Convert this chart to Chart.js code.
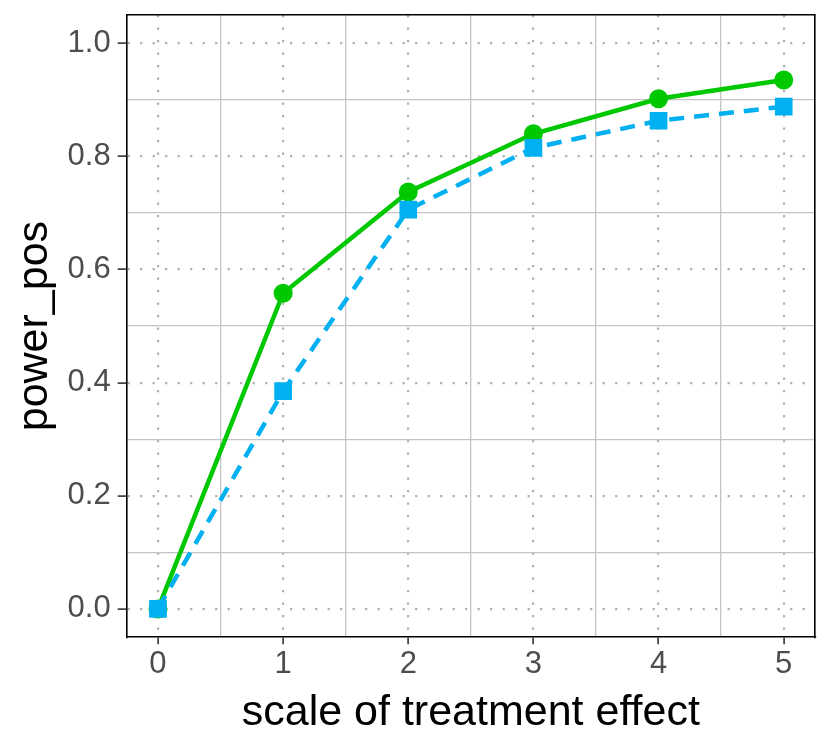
<!DOCTYPE html>
<html>
<head>
<meta charset="utf-8">
<script src="https://cdn.jsdelivr.net/npm/chart.js@4.4.0/dist/chart.umd.min.js"></script>
<style>
  html, body { margin: 0; padding: 0; background: #ffffff; }
  #wrap { width: 830px; height: 747px; }
</style>
</head>
<body>
<div id="wrap"><canvas id="c" width="830" height="747"></canvas></div>
<script>
// ---- data ----
const effectScale = [0, 1, 2, 3, 4, 5];
const powerGreen  = [0.000, 0.558, 0.737, 0.840, 0.902, 0.935];
const powerBlue   = [0.000, 0.385, 0.706, 0.815, 0.863, 0.888];
const xMajorTicks = [0, 1, 2, 3, 4, 5];
const xMinorTicks = [0.5, 1.5, 2.5, 3.5, 4.5];
const yMajorTicks = [0.0, 0.2, 0.4, 0.6, 0.8, 1.0];
const yMinorTicks = [0.1, 0.3, 0.5, 0.7, 0.9];
const xTitle = 'scale of treatment effect';
const yTitle = 'power_pos';

const GREEN = '#00c800';
const BLUE = '#00b0f0';

function pts(xs, ys) { return xs.map((x, i) => ({ x: x, y: ys[i] })); }

Chart.defaults.font.family = '"Liberation Sans", Arial, sans-serif';

const tickFont = { size: 31 };
const titleFont = { size: 43 };

new Chart(document.getElementById('c'), {
  type: 'line',
  data: {
    datasets: [
      { label: 'blue points', data: pts(effectScale, powerBlue), showLine: false,
        pointStyle: 'rect', pointRadius: 12.5, pointHoverRadius: 12.5,
        pointBackgroundColor: BLUE, pointBorderWidth: 0, borderColor: BLUE, backgroundColor: BLUE },
      { label: 'green points', data: pts(effectScale, powerGreen), showLine: false,
        pointStyle: 'circle', pointRadius: 9.5, pointHoverRadius: 9.5,
        pointBackgroundColor: GREEN, pointBorderWidth: 0, borderColor: GREEN, backgroundColor: GREEN },
      { label: 'blue line', data: pts(effectScale, powerBlue), borderColor: BLUE, borderWidth: 4.5,
        borderDash: [15, 10], pointRadius: 0, fill: false, tension: 0 },
      { label: 'green line', data: pts(effectScale, powerGreen), borderColor: GREEN, borderWidth: 4.5,
        pointRadius: 0, fill: false, tension: 0 }
    ]
  },
  options: {
    responsive: false,
    animation: false,
    devicePixelRatio: 1,
    layout: { padding: { left: 0, right: 15, top: 15, bottom: 8 } },
    plugins: { legend: { display: false }, tooltip: { enabled: false } },
    scales: {
      x: {
        type: 'linear', position: 'bottom', min: -0.25, max: 5.25,
        afterBuildTicks: s => { s.ticks = xMajorTicks.map(v => ({ value: v })); },
        afterFit: s => { s.paddingLeft = 0; s.paddingRight = 0; },
        ticks: { font: tickFont, color: '#4d4d4d', padding: 2, maxRotation: 0, autoSkip: false,
                 callback: v => String(v) },
        grid: { color: '#b0b0b0', lineWidth: 2.2, tickColor: '#333333', tickLength: 7, tickWidth: 1.6 },
        border: { display: true, color: '#000000', width: 1.6, dash: [2.2, 10.3] },
        title: { display: true, text: xTitle, font: titleFont, color: '#000000', padding: { top: 2, bottom: 0 } }
      },
      xMinor: {
        type: 'linear', position: 'top', min: -0.25, max: 5.25,
        afterBuildTicks: s => { s.ticks = xMinorTicks.map(v => ({ value: v })); },
        ticks: { display: false },
        grid: { color: '#c4c4c4', lineWidth: 1.3, drawTicks: false },
        border: { display: true, color: '#000000', width: 1.6 }
      },
      y: {
        type: 'linear', position: 'left', min: -0.05, max: 1.05,
        afterBuildTicks: s => { s.ticks = yMajorTicks.map(v => ({ value: v })); },
        afterFit: s => { s.paddingTop = 0; s.paddingBottom = 0; },
        ticks: { font: tickFont, color: '#4d4d4d', padding: 7, autoSkip: false,
                 callback: v => Number(v).toFixed(1) },
        grid: { color: '#b0b0b0', lineWidth: 2.2, tickColor: '#333333', tickLength: 9, tickWidth: 1.6 },
        border: { display: true, color: '#000000', width: 1.6, dash: [2.2, 10.3] },
        title: { display: true, text: yTitle, font: titleFont, color: '#000000', padding: { top: 9, bottom: 0 } }
      },
      yMinor: {
        type: 'linear', position: 'right', min: -0.05, max: 1.05,
        afterBuildTicks: s => { s.ticks = yMinorTicks.map(v => ({ value: v })); },
        afterFit: s => { s.paddingTop = 0; s.paddingBottom = 0; },
        ticks: { display: false },
        grid: { color: '#c4c4c4', lineWidth: 1.3, drawTicks: false },
        border: { display: true, color: '#000000', width: 1.6 }
      }
    }
  }
});
</script>
</body>
</html>
